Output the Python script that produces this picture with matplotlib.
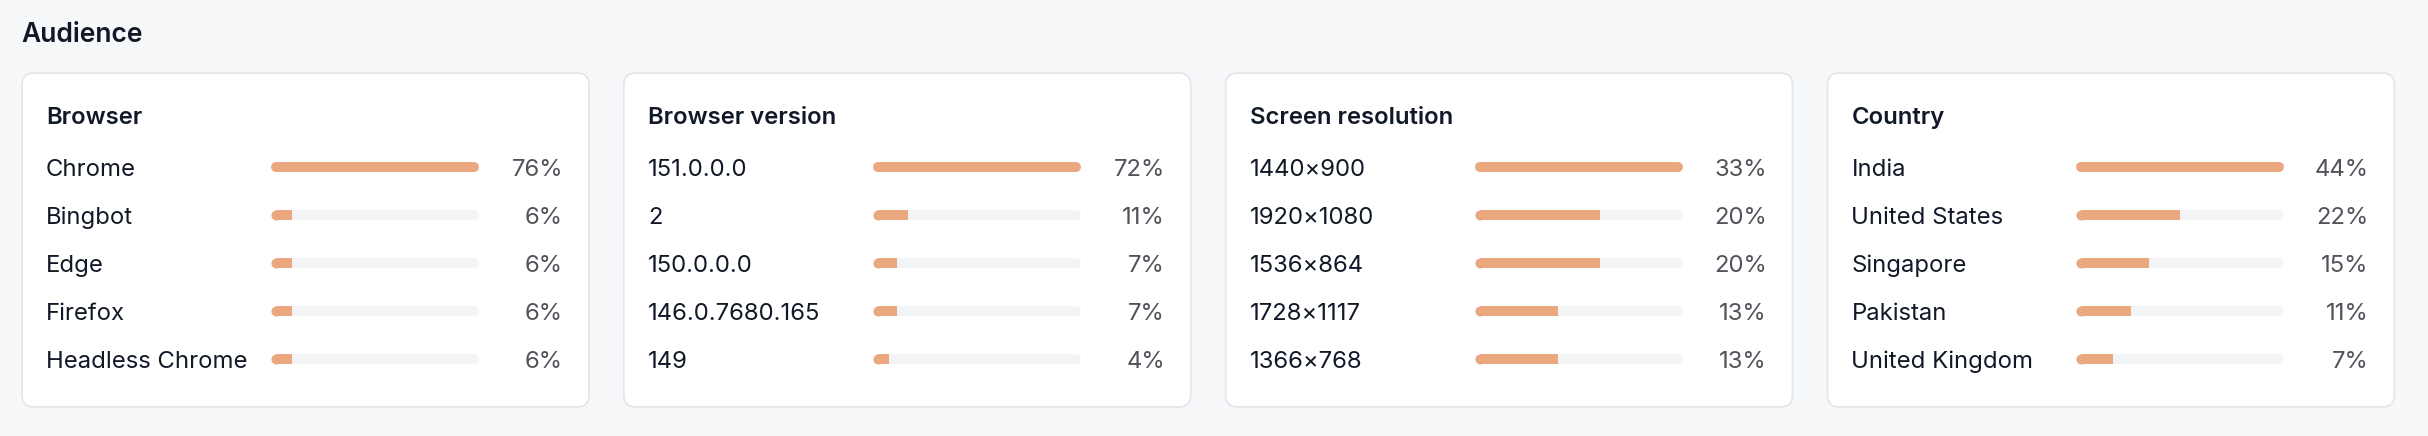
import matplotlib.pyplot as plt
from matplotlib.patches import FancyBboxPatch

# data
card_titles = ["Browser", "Browser version", "Screen resolution", "Country"]

browser_labels = ["Chrome", "Bingbot", "Edge", "Firefox", "Headless Chrome"]
browser_values = [76, 6, 6, 6, 6]

version_labels = ["151.0.0.0", "2", "150.0.0.0", "146.0.7680.165", "149"]
version_values = [72, 11, 7, 7, 4]

screen_labels = ["1440×900", "1920×1080", "1536×864", "1728×1117", "1366×768"]
screen_values = [33, 20, 20, 13, 13]

country_labels = ["India", "United States", "Singapore", "Pakistan", "United Kingdom"]
country_values = [44, 22, 15, 11, 7]

cards = [
    (browser_labels, browser_values),
    (version_labels, version_values),
    (screen_labels, screen_values),
    (country_labels, country_values),
]

BG = "#f7f8fa"
BORDER = "#e3e6eb"
BAR = "#eba87e"
TRACK = "#f3f4f6"
DARK = "#111827"
GREY = "#52525b"

W, H = 2428, 436
plt.rcParams["font.family"] = ["Inter", "DejaVu Sans"]

fig = plt.figure(figsize=(W / 100, H / 100), dpi=100, facecolor=BG)
base = fig.add_axes([0, 0, 1, 1])
base.set_xlim(0, W)
base.set_ylim(H, 0)
base.axis("off")
base.set_facecolor(BG)

base.text(21, 41.5, "Audience", fontsize=19, fontweight="semibold",
          color=DARK, va="baseline", ha="left")

card_w, card_top, card_h = 567, 73, 334
card_step = 601.8
row0, row_gap = 167, 48
bar_x0, bar_x1 = 249, 457
r = 5  # half bar thickness, px
fs = 17.2

for k, (labels, values) in enumerate(cards):
    cx = 22 + k * card_step
    card = FancyBboxPatch((cx, card_top), card_w, card_h,
                          boxstyle="round,pad=0,rounding_size=12",
                          facecolor="white", edgecolor=BORDER, linewidth=1.3)
    base.add_patch(card)
    base.text(cx + 24, 124, card_titles[k], fontsize=fs, fontweight="semibold",
              color=DARK, va="baseline", ha="left")

    for i, (lab, v) in enumerate(zip(labels, values)):
        y = row0 + i * row_gap
        base.text(cx + 24, y + 9, lab, fontsize=fs, color=DARK,
                  va="baseline", ha="left")
        base.text(cx + 541, y + 9, f"{v}%", fontsize=fs, color=GREY,
                  va="baseline", ha="right")

    # bar axes for this card, one row per category
    left = cx + bar_x0 + r
    right = cx + bar_x1 - r
    top = row0 - row_gap / 2
    bottom = top + row_gap * len(values)
    ax = fig.add_axes([left / W, 1 - bottom / H, (right - left) / W, (bottom - top) / H])
    ax.set_xlim(0, max(values))
    ax.set_ylim(len(values) - 0.5, -0.5)
    ax.axis("off")
    lw = 2 * r * 0.72
    vmax = max(values)
    for i, v in enumerate(values):
        ax.plot([0, vmax], [i, i], color=TRACK, lw=lw, solid_capstyle="round",
                clip_on=False)
        if v == vmax:
            ax.plot([0, v], [i, i], color=BAR, lw=lw, solid_capstyle="round",
                    clip_on=False)
        else:
            ax.plot([0, v], [i, i], color=BAR, lw=lw, solid_capstyle="butt",
                    clip_on=False)
            ax.plot([0], [i], marker="o", ms=lw, color=BAR, mew=0, clip_on=False)

fig.savefig("out.png", dpi=100, facecolor=BG)
